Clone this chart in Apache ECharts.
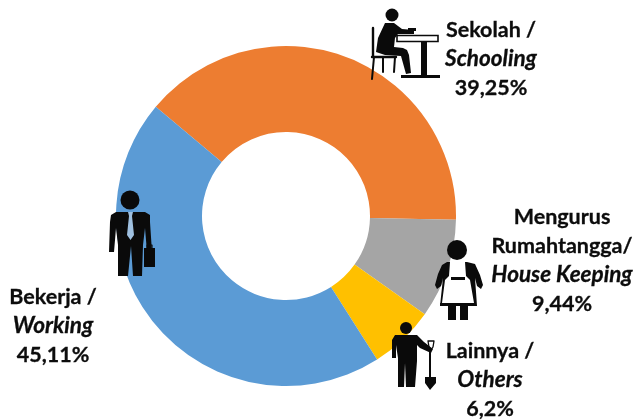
<!DOCTYPE html>
<html><head><meta charset="utf-8">
<style>html,body{margin:0;padding:0;background:#fff}#c{width:636px;height:420px}</style>
<script src="https://cdn.jsdelivr.net/npm/echarts@6/dist/echarts.min.js"></script>
</head><body><div id="c"></div>
<script>
const categories = ['Sekolah /','Mengurus\nRumahtangga/','Lainnya /','Bekerja /'];
const englishNames = ['Schooling','House Keeping','Others','Working'];
const values = [39.25,9.44,6.2,45.11];
const valueLabels = ['39,25%','9,44%','6,2%','45,11%'];
const colors = ['#ED7D31','#A5A5A5','#FFC000','#5B9BD5'];
const labelCenters = [[491,30],[562,217],[490,351],[53,297]];

const ink='#0a0a0a';
const pts=s=>{const n=s.match(/-?[\d.]+/g).map(Number),o=[];for(let i=0;i<n.length;i+=2)o.push([n[i],n[i+1]]);return o;};
const P=(d,fill)=>({type:'polygon',z:10,shape:{points:pts(d)},style:{fill:fill||ink}});
const C=(cx,cy,r,fill)=>({type:'circle',z:10,shape:{cx,cy,r},style:{fill:fill||ink}});
const L=(d,w)=>({type:'polyline',z:10,shape:{points:pts(d)},style:{fill:'none',stroke:ink,lineWidth:w,lineCap:'round',lineJoin:'round'}});

const icons=[
 // student
 C(392,15,6.5),
 P('385 23 394 23 402 29 414 30 414 34 398 34 395 38 394 47 403 48 407 50 409 55 411 73 406 74 401 56 385 55 376 52 378 38'),
 P('408 28 416 28 416 31 408 31'),
 {type:'rect',z:11,shape:{x:397,y:35.5,width:41,height:6},style:{fill:'#fff',stroke:ink,lineWidth:1.6}},
 P('421 42 427 42 427 75 440 75 440 78 401 78 401 75 421 75'),
 L('373 28 373 56',2.4),L('372 57 396 57',2.4),L('374 57 372 79',2),L('383 57 383 72',2),L('395 57 394 72',2),
 // housekeeper
 C(457,250,10),
 P('447 262 467 262 475 264 480 275 483 285 481 289 477 286 475 278 477 306 440 306 443 278 441 286 437 289 435 285 438 274 442 265'),
 P('450 262 465 262 466 276 470 280 474 303 442 303 445 280 449 276','#ffffff'),
 P('451 277 465 277 465 280 451 280'),
 P('440 303 476 303 476 306 440 306'),
 P('448 306 456 306 456 320 448 320'),
 P('460 306 468 306 468 320 460 320'),
 // man with shovel
 C(406,328,6),
 P('395 335 417 335 424 342 433 349 431 353 420 348 417 345 417 361 415 387 406 387 405 363 404 387 398 387 398 358 396 345 396 358 392 358 392 340'),
 L('428 341 434 341 433 347 431 350 429 347 428 341',1.3),
 P('429 350 431 350 431 377 436 377 436 383 430 390 425 383 425 377 429 377'),
 // worker
 C(130,200,9.5),
 P('116 212 145 212 150 215 150 222 152 252 147 252 145 228 143 245 142 276 133 276 131 246 128 276 118 276 118 245 116 228 114 252 109 252 110 222 111 215'),
 P('128 212 133 212 132 216 134 235 130.5 240 127 235 129 216','#9fc0e0'),
 P('144 248 155 248 155 267 144 267'),
 L('147 248 147 245 152 245 152 248',1.2)
];

const T=(text,x,y,italic)=>({type:'text',z:12,x,y,style:{text,align:'center',verticalAlign:'middle',
  fill:'#0c0c0c',stroke:'#0c0c0c',lineWidth:0.3,
  font:(italic?'italic ':'')+'bold '+(italic?22.5:21.5)+'px Lato'}});
const texts=[];
categories.forEach((n,i)=>{
  const lines=[...n.split('\n').map(s=>[s,false]),[englishNames[i],true],[valueLabels[i],false]];
  lines.forEach((l,j)=>texts.push(T(l[0],labelCenters[i][0],labelCenters[i][1]+j*29,l[1])));
});

const chart=echarts.init(document.getElementById('c'),null,{renderer:'canvas'});
chart.setOption({
 animation:false,
 graphic:[...icons,...texts],
 series:[{
  type:'pie',
  center:[286,216],
  radius:[84,170],
  startAngle:140,
  clockwise:true,
  silent:true,
  color:colors,
  label:{show:false},
  labelLine:{show:false},
  data:categories.map((n,i)=>({name:n.replace('\n',' ')+' '+englishNames[i],value:values[i]}))
 }]
});
</script></body></html>
